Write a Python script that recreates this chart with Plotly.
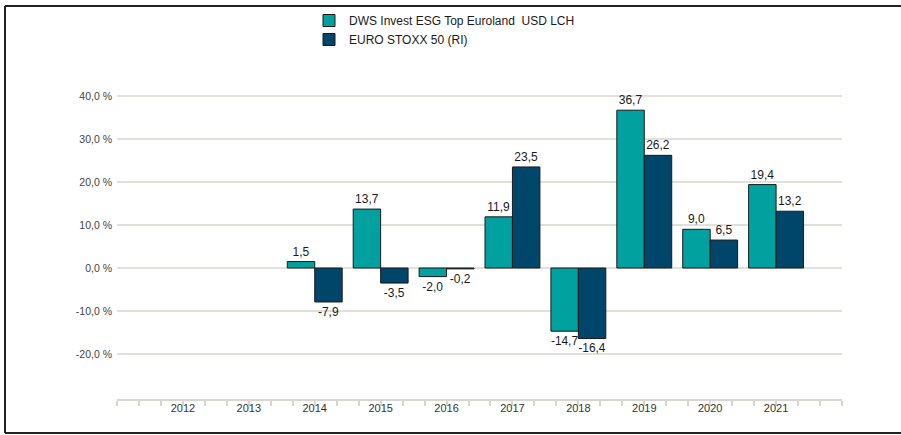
import plotly.graph_objects as go

years = [2012, 2013, 2014, 2015, 2016, 2017, 2018, 2019, 2020, 2021]
fund = [None, None, 1.5, 13.7, -2.0, 11.9, -14.7, 36.7, 9.0, 19.4]
index = [None, None, -7.9, -3.5, -0.2, 23.5, -16.4, 26.2, 6.5, 13.2]
series_names = ["DWS Invest ESG Top Euroland  USD LCH", "EURO STOXX 50 (RI)"]
y_ticks = [-20, -10, 0, 10, 20, 30, 40]
y_ticktext = [f"{v:.1f}".replace(".", ",") + " %" for v in y_ticks]

W, H = 901, 435
L, R, T, B = 117, 842, 60, 399
pw, ph = R - L, B - T

def px_x(p):
    return (p - L) / pw

def px_y(p):
    return (B - p) / ph

fig = go.Figure()
for name, vals, col in [(series_names[0], fund, "#00a19f"), (series_names[1], index, "#00466b")]:
    fig.add_trace(go.Bar(
        x=years, y=vals, name=name,
        marker=dict(color=col, line=dict(color="#1a1a1a", width=1)),
        texttemplate="%{y:.1f}", textposition="outside",
        textfont=dict(size=12, color="#1a1a1a", family="Liberation Sans, Arial"),
        cliponaxis=False,
    ))

fig.update_layout(
    width=W, height=H,
    margin=dict(l=L, r=W - R, t=T, b=H - B, pad=0, autoexpand=False),
    paper_bgcolor="white", plot_bgcolor="white",
    barmode="group", bargap=0.167, bargroupgap=0,
    separators=", ",
    font=dict(family="Liberation Sans, Arial", color="#333333"),
    legend=dict(
        x=px_x(309), y=px_y(6), xanchor="left", yanchor="top",
        font=dict(size=12, color="#1a1a1a"),
        bgcolor="rgba(0,0,0,0)", tracegroupgap=0, itemwidth=30,
    ),
    showlegend=True,
    xaxis=dict(
        range=[2011, 2022],
        tickvals=years, ticktext=[str(y) for y in years],
        ticks="outside", ticklen=0,
        tickfont=dict(size=11, color="#333333"),
        showgrid=False, zeroline=False,
        showline=True, linecolor="#d9d6cf", linewidth=2,
        minor=dict(tick0=2011, dtick=1 / 3, ticks="outside", ticklen=5, tickcolor="#d9d6cf", tickwidth=1.5, showgrid=False),
        ticklabelstandoff=-2,
        fixedrange=True,
    ),
    yaxis=dict(
        range=[-(399 - 268) / 4.3, (268 - T) / 4.3],
        tickvals=y_ticks, ticktext=y_ticktext,
        tickfont=dict(size=10.5, color="#444444"),
        showgrid=True, gridcolor="#e3e0da", gridwidth=1.5,
        zeroline=True, zerolinecolor="#e3e0da", zerolinewidth=1.5,
        showline=False, ticks="", ticklabelstandoff=4,
        fixedrange=True,
    ),
)

# frame lines (top, left, bottom)
frame = dict(type="line", xref="paper", yref="paper", line=dict(color="#222222", width=2))
fig.add_shape(**frame, x0=px_x(5), x1=px_x(901), y0=px_y(6), y1=px_y(6))
fig.add_shape(**frame, x0=px_x(5), x1=px_x(5), y0=px_y(6), y1=px_y(433))
fig.add_shape(**frame, x0=px_x(5), x1=px_x(901), y0=px_y(433), y1=px_y(433))

fig.write_html(
    "out.html",
    config={"displayModeBar": False},
    post_script="document.body.style.margin='0';document.body.style.padding='0';",
)
